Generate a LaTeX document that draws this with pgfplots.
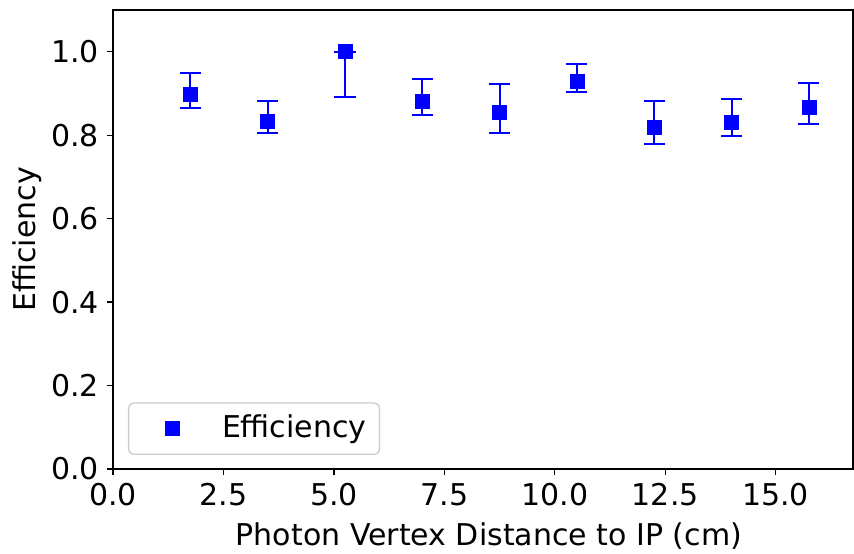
\documentclass[border=0pt]{standalone}
\usepackage{pgfplots}
\pgfplotsset{compat=1.18}
\usepackage{fontspec}
\setmainfont{DejaVu Sans}
\definecolor{mplblue}{rgb}{0,0,1}
\pgfplotsset{
  effleg/.style={legend image code/.code={\path (-15bp,0) (13bp,0); \draw[##1, opacity=1, fill opacity=1, draw opacity=1] plot coordinates {(0bp,0bp)};}},
}
\def\ff{\fontsize{15bp}{18bp}\selectfont}
\begin{document}
\ff
\begin{tikzpicture}
\begin{axis}[
  name=ax,
  scale only axis,
  width=370bp, height=229.5bp,
  xmin=0, xmax=16.75, ymin=0, ymax=1.1,
  axis line style={line width=0.67bp, black},
  tick style={line width=0.67bp, black},
  major tick length=2.92bp,
  tick align=outside,
  xtick pos=bottom, ytick pos=left,
  xtick={0,2.5,5,7.5,10,12.5,15},
  ytick={0,0.2,0.4,0.6,0.8,1.0},
  minor tick num=0,
  /pgf/number format/assume math mode=true,
  /pgf/number format/fixed,
  /pgf/number format/fixed zerofill,
  /pgf/number format/precision=1,
  xticklabel style={font=\ff, inner sep=0pt, anchor=north, yshift=-4bp},
  yticklabel style={font=\ff, inner sep=0pt, anchor=east, xshift=-4bp},
  xlabel={Photon Vertex Distance to IP (cm)},
  ylabel={Efficiency},
  xlabel style={font=\ff, at={(axis description cs:0.508,-0.1656)}, anchor=base, inner sep=0pt},
  ylabel style={font=\ff, at={(axis description cs:-0.1162,0.5)}, anchor=center, inner sep=0pt},
  legend style={
    at={(axis description cs:0.02027,0.0305)}, anchor=south west,
    draw=black!20, line width=0.67bp, fill=white, fill opacity=0.8, text opacity=1,
    rounded corners=2.5bp,
    inner xsep=6.5bp, inner ysep=6bp,
    nodes={inner sep=0pt, font=\ff},
    /tikz/every odd column/.append style={column sep=11.5bp},
  },
  legend cell align=left,
  effleg,
]
\addplot[draw=none, mark=none, forget plot,
  error bars/.cd, y dir=both, y explicit,
  error mark=-,
  error bar style={line width=1bp, mplblue},
  error mark options={line width=1bp, mplblue, mark size=5.3bp, rotate=90},
] table[x=x, y=y, y error plus=ep, y error minus=em] {
x     y     ep    em
1.75  0.899 0.051 0.033
3.5   0.834 0.048 0.028
5.25  1.000 0.000 0.108
7.0   0.882 0.052 0.033
8.75  0.854 0.068 0.048
10.5  0.930 0.040 0.026
12.25 0.820 0.062 0.040
14.0  0.832 0.055 0.033
15.75 0.866 0.060 0.039
};
\addplot[only marks, mark=square*, mark size=3.5bp, mplblue,
  mark options={draw=mplblue, fill=mplblue, line width=0.3bp},
] table[x=x, y=y] {
x     y
1.75  0.899
3.5   0.834
5.25  1.000
7.0   0.882
8.75  0.854
10.5  0.930
12.25 0.820
14.0  0.832
15.75 0.866
};
\addlegendentry{Efficiency}
\end{axis}
\pgfresetboundingbox
\path[use as bounding box] ([shift={(-56.5bp,-42.5bp)}]ax.south west) rectangle ([shift={(0.5bp,5bp)}]ax.north east);
\end{tikzpicture}
\end{document}
